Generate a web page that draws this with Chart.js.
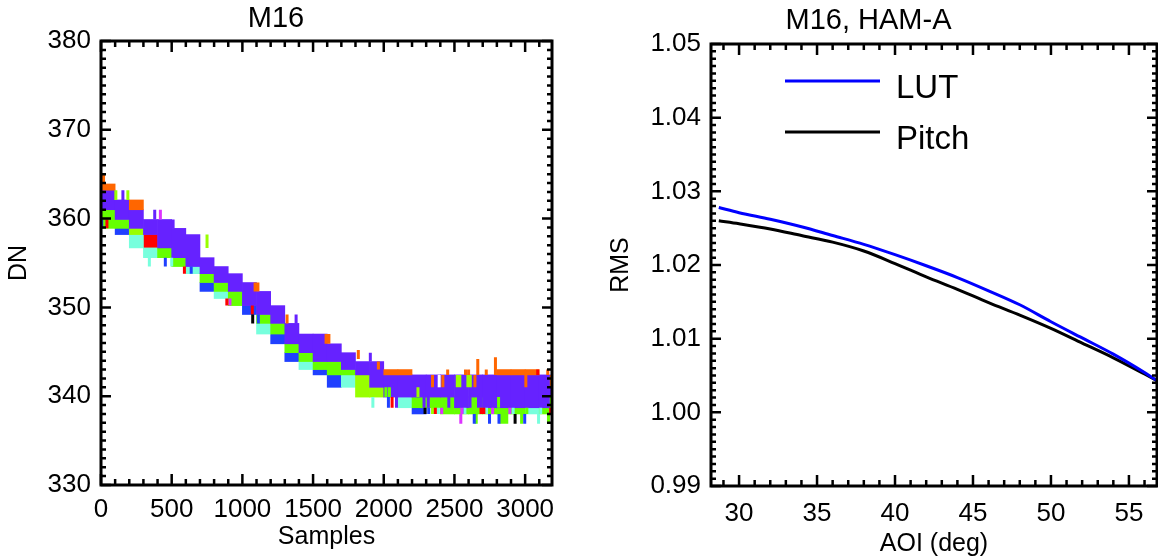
<!DOCTYPE html>
<html>
<head>
<meta charset="utf-8">
<script src="https://cdn.jsdelivr.net/npm/chart.js@4.4.1/dist/chart.umd.min.js"></script>
<style>
    html, body { margin: 0; padding: 0; background: #fff; }
    #wrap { position: relative; width: 1158px; height: 560px; overflow: hidden; }
    #dnChart { position: absolute; left: 0; top: 0; }
    #rmsChart { position: absolute; left: 580px; top: 0; }
</style>
</head>
<body>
<div id="wrap">
    <canvas id="dnChart" width="580" height="560"></canvas>
    <canvas id="rmsChart" width="578" height="560"></canvas>
</div>
<script>
// ---------- Left panel: M16, DN vs Samples (100-sample bins) ----------
const binCenters = [50, 150, 250, 350, 450, 550, 650, 750, 850, 950, 1050, 1150, 1250, 1350, 1450, 1550,
    1650, 1750, 1850, 1950, 2050, 2150, 2250, 2350, 2450, 2550, 2650, 2750, 2850, 2950, 3050, 3150];

const dnXTicks = [0, 500, 1000, 1500, 2000, 2500, 3000];
const dnYTicks = [330, 340, 350, 360, 370, 380];

// [low DN, high DN] per bin, null where the colour is absent
const purpleBins = [
    [361.0, 363.2], [359.9, 362.1], [358.9, 361.0], [358.2, 359.9], [356.7, 359.9], [355.6, 358.9],
    [354.6, 358.2], [353.8, 355.6], [352.8, 354.6], [351.8, 353.8], [350.2, 352.8], [349.2, 351.8],
    [348.2, 350.2], [345.9, 348.2], [344.9, 347.0], [343.9, 347.0], [343.9, 345.9], [343.0, 344.9],
    [342.4, 343.9], [341.0, 343.9], [339.9, 342.4], [339.9, 342.4], [339.9, 342.4], [339.9, 342.4],
    [339.9, 342.4], [338.7, 342.4], [339.9, 342.4], [338.7, 342.4], [338.7, 342.4], [338.7, 342.4],
    [338.7, 342.4], [338.7, 342.4]
];
const orangeBins = [
    [363.2, 363.9], null, [361.0, 362.1], null, null, null, null, null, null, null, null, null,
    null, null, null, null, null, null, null, null, [342.4, 343.0], [342.4, 343.0], null, null,
    null, null, null, null, [342.4, 343.0], [342.4, 343.0], [342.4, 343.0], null
];
const greenBins = [
    [358.9, 361.0], [358.9, 359.9], null, null, [355.6, 356.7], [354.6, 355.6], null, [352.8, 353.8],
    [351.8, 352.8], [350.2, 351.8], null, [348.2, 349.2], [347.0, 348.2], [344.9, 345.9], [343.9, 344.9],
    [343.0, 343.9], [342.4, 343.9], [342.4, 343.0], null, null, null, null, [338.7, 339.9], [338.7, 339.9],
    [338.0, 339.9], [338.0, 338.7], [338.0, 339.9], [338.0, 338.7], [338.0, 338.7], [338.0, 338.7],
    null, [338.0, 338.7]
];
const yellowGreenBins = [
    null, null, [358.2, 358.9], null, null, null, null, null, null, null, null, null,
    null, null, null, null, null, null, [339.9, 342.4], [339.9, 341.0], null, null, null, null,
    null, null, null, null, null, null, null, null
];
const cyanBins = [
    null, null, [356.7, 358.2], [355.6, 356.7], null, null, [353.8, 354.6], null, [351.0, 351.8], null,
    null, [347.0, 348.2], null, null, [343.0, 343.9], null, null, [341.0, 342.4], null, null, null,
    [338.7, 339.9], null, null, null, null, null, null, null, null, [338.0, 338.7], null
];
const blueBins = [
    null, [358.2, 358.9], null, null, null, null, null, [351.8, 352.8], null, null, [349.2, 350.2], null,
    [345.9, 347.0], [343.9, 344.9], null, [342.4, 343.0], [341.0, 342.4], null, null, null, null, null,
    [338.0, 338.7], null, null, null, null, null, null, null, null, null
];
const redBins = [
    null, null, null, [356.7, 358.2], null, null, null, null, null, null, null, null,
    null, null, null, null, null, null, null, null, null, null, null, null,
    null, null, null, null, null, null, null, null
];

// narrow single-sample runs: [sample, low DN, high DN]
const orangeSpikes = [
    [18, 363.9, 365.1], [1090, 351.8, 352.8], [1110, 351.8, 352.8], [1316, 348.2, 349.2],
    [1592, 345.9, 347.0], [1612, 345.9, 347.0], [1820, 344.2, 345.2], [1962, 343.0, 343.9],
    [2345, 341.0, 342.4], [2418, 341.0, 342.4], [2452, 342.4, 343.0], [2578, 342.4, 343.0],
    [2600, 342.4, 343.0], [2645, 341.0, 342.4], [2665, 342.4, 344.2], [2725, 342.4, 343.0],
    [2790, 342.4, 344.4], [3005, 341.0, 342.4], [3160, 342.4, 343.0], [3185, 341.0, 342.4]
];
const redSpikes = [
    [42, 358.9, 359.9], [590, 353.8, 354.6], [890, 350.2, 351.0], [1070, 349.2, 350.2],
    [2059, 338.7, 339.9], [2365, 338.0, 338.7], [2688, 338.0, 338.7], [2708, 338.0, 338.7],
    [3089, 342.4, 343.0], [3180, 338.0, 338.7]
];
const magentaSpikes = [
    [420, 359.9, 361.0], [912, 350.2, 351.0], [2410, 338.0, 338.7], [2552, 338.0, 338.7],
    [2545, 336.9, 338.0], [2770, 338.0, 338.7], [2892, 338.0, 338.7]
];
const blueSpikes = [
    [5, 358.9, 359.9], [455, 354.6, 355.6], [638, 353.8, 354.6], [1113, 348.2, 349.2],
    [2033, 338.7, 339.9], [2318, 338.0, 338.7], [2640, 336.9, 338.0], [2748, 336.9, 338.0],
    [2815, 336.9, 338.0], [2997, 336.9, 338.0]
];
const cyanSpikes = [
    [342, 354.6, 355.6], [500, 354.6, 355.6], [1923, 338.7, 339.9], [2386, 338.0, 338.7],
    [2574, 338.0, 338.7], [2727, 338.0, 338.7], [2915, 338.0, 338.7], [3095, 336.9, 338.0],
    [3110, 338.0, 338.7]
];
const greenSpikes = [
    [2015, 339.9, 341.0], [2040, 339.9, 341.0], [2812, 338.7, 339.9], [3012, 338.0, 338.7],
    [3185, 338.7, 339.9], [2654, 336.9, 338.0], [2830, 336.9, 338.0], [2850, 336.9, 338.0],
    [2870, 336.9, 338.0], [2975, 336.9, 338.0], [3165, 336.9, 338.0]
];
const yellowGreenSpikes = [
    [105, 362.1, 363.2], [190, 362.1, 363.2], [750, 356.7, 358.2], [2242, 339.9, 341.0],
    [2345, 338.0, 338.7], [2520, 341.0, 342.4], [2538, 341.0, 342.4], [2595, 341.0, 342.4],
    [2612, 341.0, 342.4]
];
const purpleSpikes = [
    [155, 362.1, 363.2], [380, 359.9, 361.0], [510, 358.9, 359.9], [1380, 348.2, 349.2],
    [1905, 343.9, 344.9], [2090, 338.7, 339.9], [2285, 338.7, 339.9], [2315, 338.7, 339.9],
    [2460, 338.7, 339.9], [2560, 338.0, 338.7], [2610, 338.7, 339.9], [2670, 338.7, 339.9],
    [2690, 338.7, 339.9]
];
const blackSpikes = [[1073, 348.2, 349.2], [2292, 338.0, 338.7], [2929, 336.9, 338.0]];
const whiteSpikes = [[2392, 341.0, 342.4]];

// ---------- Right panel: M16, HAM-A, RMS vs AOI ----------
const aoiDeg = [28.7, 30, 32, 34, 36, 38, 40, 42, 44, 46, 48, 50, 52, 54, 56, 56.8];
const rmsLut = [1.0278, 1.0271, 1.0262, 1.0252, 1.0240, 1.0228, 1.0214, 1.0199, 1.0183, 1.0165,
    1.0146, 1.0123, 1.0101, 1.0079, 1.0054, 1.0043];
const rmsPitch = [1.0260, 1.0256, 1.0249, 1.0240, 1.0231, 1.0219, 1.0202, 1.0184, 1.0167, 1.0149,
    1.0132, 1.0114, 1.0094, 1.0074, 1.0052, 1.0043];
const aoiTicks = [30, 35, 40, 45, 50, 55];
const rmsTicks = [0.99, 1.00, 1.01, 1.02, 1.03, 1.04, 1.05];

const FONT = "'Liberation Sans', Arial, sans-serif";
Chart.defaults.color = "#000";
Chart.defaults.font.family = FONT;

// Box round the plot with inward major / minor ticks on all four sides
const framePlugin = {
    id: "frame",
    afterDatasetsDraw(chart, args, opts) {
        const { ctx, chartArea: a, scales } = chart;
        const x = scales.x, y = scales.y;
        const isMajor = (scale, v) => scale.ticks.some(t => Math.abs(t.value - v) < 1e-7);
        ctx.save();
        ctx.strokeStyle = "#000";
        ctx.lineCap = "butt";
        ctx.lineWidth = 2.5;
        ctx.beginPath();
        let start = Math.ceil(x.min / opts.xMinor - 1e-9);
        let end = Math.floor(x.max / opts.xMinor + 1e-9);
        for (let i = start; i <= end; i++) {
            const v = i * opts.xMinor;
            const px = x.getPixelForValue(v);
            const len = isMajor(x, v) ? 11 : 6;
            ctx.moveTo(px, a.bottom); ctx.lineTo(px, a.bottom - len);
            ctx.moveTo(px, a.top); ctx.lineTo(px, a.top + len);
        }
        start = Math.ceil(y.min / opts.yMinor - 1e-9);
        end = Math.floor(y.max / opts.yMinor + 1e-9);
        for (let i = start; i <= end; i++) {
            const v = i * opts.yMinor;
            const py = y.getPixelForValue(v);
            const len = isMajor(y, v) ? 10 : 5;
            ctx.moveTo(a.left, py); ctx.lineTo(a.left + len, py);
            ctx.moveTo(a.right, py); ctx.lineTo(a.right - len, py);
        }
        ctx.stroke();
        ctx.lineWidth = 3;
        ctx.strokeRect(a.left, a.top, a.right - a.left, a.bottom - a.top);
        ctx.restore();
    }
};

// Legend drawn inside the plot area (line sample + label)
const innerLegend = {
    id: "innerLegend",
    afterDatasetsDraw(chart, args, opts) {
        const { ctx, chartArea: a } = chart;
        ctx.save();
        ctx.font = opts.fontSize + "px " + FONT;
        ctx.textBaseline = "alphabetic";
        chart.data.datasets.forEach((ds, i) => {
            const ly = a.top + opts.top + i * opts.rowGap;
            ctx.strokeStyle = ds.borderColor;
            ctx.lineWidth = 3;
            ctx.beginPath();
            ctx.moveTo(a.left + opts.lineStart, ly);
            ctx.lineTo(a.left + opts.lineEnd, ly);
            ctx.stroke();
            ctx.fillStyle = "#000";
            ctx.fillText(ds.label, a.left + opts.textX, ly + opts.textDrop);
        });
        ctx.restore();
    }
};

function bandDataset(label, color, bins) {
    return {
        type: "bar",
        label: label,
        backgroundColor: color,
        data: bins.map((r, i) => (r ? { x: binCenters[i], y: r } : null)).filter(Boolean),
        order: 2,
    };
}

function spikeDataset(label, color, list) {
    const data = [];
    list.forEach(([s, lo, hi]) => {
        data.push({ x: s, y: lo }, { x: s, y: hi }, { x: s, y: null });
    });
    return {
        type: "line",
        label: label,
        data: data,
        borderColor: color,
        borderWidth: 3,
        borderCapStyle: "butt",
        pointRadius: 0,
        spanGaps: false,
        order: 1,
    };
}

const titleFont = { family: FONT, size: 29, weight: "normal", lineHeight: "32px" };
const tickFont = { family: FONT, size: 26 };
const axisTitleFont = { family: FONT, size: 25 };

new Chart(document.getElementById("dnChart"), {
    type: "bar",
    data: {
        datasets: [
            spikeDataset("white", "#ffffff", whiteSpikes),
            spikeDataset("black", "#000000", blackSpikes),
            spikeDataset("orange s", "#ff6600", orangeSpikes),
            spikeDataset("red s", "#ff0000", redSpikes),
            spikeDataset("magenta s", "#dd33ff", magentaSpikes),
            spikeDataset("blue s", "#2040ff", blueSpikes),
            spikeDataset("cyan s", "#77ffdd", cyanSpikes),
            spikeDataset("green s", "#66ff00", greenSpikes),
            spikeDataset("ygreen s", "#99ff00", yellowGreenSpikes),
            spikeDataset("purple s", "#6622ff", purpleSpikes),
            bandDataset("orange", "#ff6600", orangeBins),
            bandDataset("purple", "#6622ff", purpleBins),
            bandDataset("green", "#66ff00", greenBins),
            bandDataset("ygreen", "#99ff00", yellowGreenBins),
            bandDataset("cyan", "#77ffdd", cyanBins),
            bandDataset("blue", "#2040ff", blueBins),
            bandDataset("red", "#ff0000", redBins),
        ],
    },
    options: {
        responsive: false,
        animation: false,
        layout: { padding: { left: 0, right: 28, top: 0, bottom: 0 } },
        datasets: {
            bar: { grouped: false, categoryPercentage: 1, barPercentage: 1, borderWidth: 0 },
        },
        plugins: {
            legend: { display: false },
            tooltip: { enabled: false },
            title: { display: true, text: "M16", font: titleFont, padding: { top: 3, bottom: 6 } },
            frame: { xMinor: 100, yMinor: 1 },
        },
        scales: {
            x: {
                type: "linear",
                min: 0,
                max: 3190,
                offset: false,
                grid: { display: false, drawTicks: false },
                border: { display: false },
                afterBuildTicks: (s) => { s.ticks = dnXTicks.map(v => ({ value: v })); },
                afterFit: (s) => { s.height = 75; },
                ticks: { font: tickFont, padding: 9, maxRotation: 0, autoSkip: false, callback: v => String(v) },
                title: { display: true, text: "Samples", font: axisTitleFont, padding: { top: 0, bottom: 8 } },
            },
            y: {
                type: "linear",
                min: 330,
                max: 380,
                grid: { display: false, drawTicks: false },
                border: { display: false },
                afterBuildTicks: (s) => { s.ticks = dnYTicks.map(v => ({ value: v })); },
                afterFit: (s) => { s.width = 101; },
                ticks: { font: tickFont, padding: 10, autoSkip: false, callback: v => String(v) },
                title: { display: true, text: "DN", font: axisTitleFont, padding: { top: 4, bottom: 0 } },
            },
        },
    },
    plugins: [framePlugin],
});

new Chart(document.getElementById("rmsChart"), {
    type: "line",
    data: {
        datasets: [
            {
                label: "LUT",
                data: aoiDeg.map((a, i) => ({ x: a, y: rmsLut[i] })),
                borderColor: "#0000ff",
                borderWidth: 3,
                pointRadius: 0,
                cubicInterpolationMode: "monotone",
            },
            {
                label: "Pitch",
                data: aoiDeg.map((a, i) => ({ x: a, y: rmsPitch[i] })),
                borderColor: "#000000",
                borderWidth: 3,
                pointRadius: 0,
                cubicInterpolationMode: "monotone",
            },
        ],
    },
    options: {
        responsive: false,
        animation: false,
        layout: { padding: { left: 0, right: 1, top: 0, bottom: 0 } },
        plugins: {
            legend: { display: false },
            tooltip: { enabled: false },
            title: { display: true, text: "M16, HAM-A", font: titleFont, padding: { top: 5, bottom: 7 } },
            frame: { xMinor: 1, yMinor: 0.001 },
            innerLegend: { fontSize: 33, top: 37, rowGap: 51, lineStart: 74, lineEnd: 169, textX: 185, textDrop: 17 },
        },
        scales: {
            x: {
                type: "linear",
                min: 28.2,
                max: 56.8,
                grid: { display: false, drawTicks: false },
                border: { display: false },
                afterBuildTicks: (s) => { s.ticks = aoiTicks.map(v => ({ value: v })); },
                afterFit: (s) => { s.height = 74; },
                ticks: { font: tickFont, padding: 12, maxRotation: 0, autoSkip: false, callback: v => String(v) },
                title: { display: true, text: "AOI (deg)", font: axisTitleFont, padding: { top: 0, bottom: 1 } },
            },
            y: {
                type: "linear",
                min: 0.99,
                max: 1.05,
                grid: { display: false, drawTicks: false },
                border: { display: false },
                afterBuildTicks: (s) => { s.ticks = rmsTicks.map(v => ({ value: v })); },
                afterFit: (s) => { s.width = 131; },
                ticks: { font: tickFont, padding: 10, autoSkip: false, callback: v => Number(v).toFixed(2) },
                title: { display: true, text: "RMS", font: axisTitleFont, padding: { top: 26, bottom: 0 } },
            },
        },
    },
    plugins: [framePlugin, innerLegend],
});
</script>
</body>
</html>
